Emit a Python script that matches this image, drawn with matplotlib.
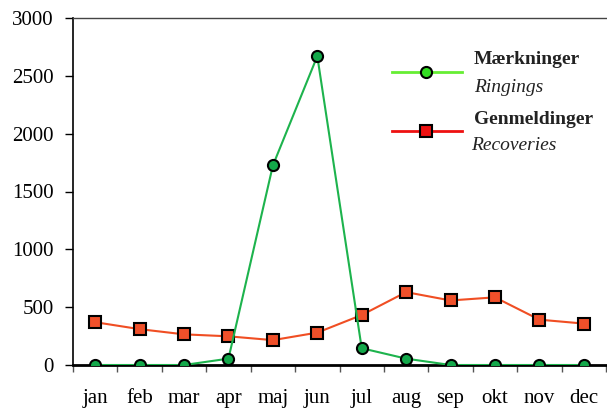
import numpy as np
import matplotlib.pyplot as plt
from matplotlib.lines import Line2D

months = ['jan', 'feb', 'mar', 'apr', 'maj', 'jun', 'jul', 'aug', 'sep', 'okt', 'nov', 'dec']
ringings = [0, 0, 0, 55, 1725, 2670, 145, 55, 0, 0, 0, 0]
recoveries = [370, 310, 265, 248, 215, 280, 432, 630, 558, 585, 392, 358]

plt.rcParams['font.family'] = ['Liberation Serif', 'DejaVu Serif']

W, H = 607, 413
fig = plt.figure(figsize=(W / 100, H / 100), dpi=100)
ax = fig.add_axes([73 / W, 48 / H, 533 / W, 347 / H])

x = np.arange(len(months))
ax.plot(x, recoveries, '-', color='#f04e23', lw=1.5, marker='s', ms=8,
        mfc='#f0502a', mec='black', mew=1.5, zorder=3)
ax.plot(x, ringings, '-', color='#1db34d', lw=1.5, marker='o', ms=8,
        mfc='#13a84a', mec='black', mew=1.5, zorder=4)

ax.set_xlim(-0.5, 11.5)
ax.set_ylim(0, 3000)
ax.set_yticks(np.arange(0, 3001, 500))
ax.set_xticks(x)
ax.set_xticklabels(months)
ax.set_xticks(np.arange(-0.5, 11.6, 1), minor=True)
ax.tick_params(axis='x', which='major', length=0, pad=17, labelsize=15)
ax.tick_params(axis='x', which='minor', length=5, width=1, color='#555555')
ax.tick_params(axis='y', length=6, width=1, labelsize=15, pad=8)

ax.spines['right'].set_visible(False)
ax.spines['top'].set_color('#444444')
ax.spines['top'].set_linewidth(1)
ax.spines['left'].set_linewidth(1.2)
ax.spines['bottom'].set_linewidth(2)
ax.spines['bottom'].set_zorder(2)

# legend drawn by hand
def px(xp, yp):
    return xp / W, 1 - yp / H

for (y0, col, mk, mfc, name, sub, sx) in [
        (72, '#66ee33', 'o', '#33dd22', 'Mærkninger', 'Ringings', 474),
        (131, '#ee1111', 's', '#ee1111', 'Genmeldinger', 'Recoveries', 471)]:
    x1, yy = px(392, y0)
    x2, _ = px(462, y0)
    fig.add_artist(Line2D([x1, x2], [yy, yy], color=col, lw=2, transform=fig.transFigure))
    mx, _ = px(426, y0)
    fig.add_artist(Line2D([mx], [yy], marker=mk, ms=8, mfc=mfc, mec='black', mew=1.5,
                          transform=fig.transFigure))
    tx, ty = px(474, y0 - 12)
    fig.text(tx, ty, name, fontsize=14, fontweight='bold', va='center', ha='left', color='#222222')
    sx_, sy = px(sx, y0 + 15)
    fig.text(sx_, sy, sub, fontsize=14, fontstyle='italic', va='center', ha='left', color='#222222')

fig.savefig('out.png', dpi=100)
